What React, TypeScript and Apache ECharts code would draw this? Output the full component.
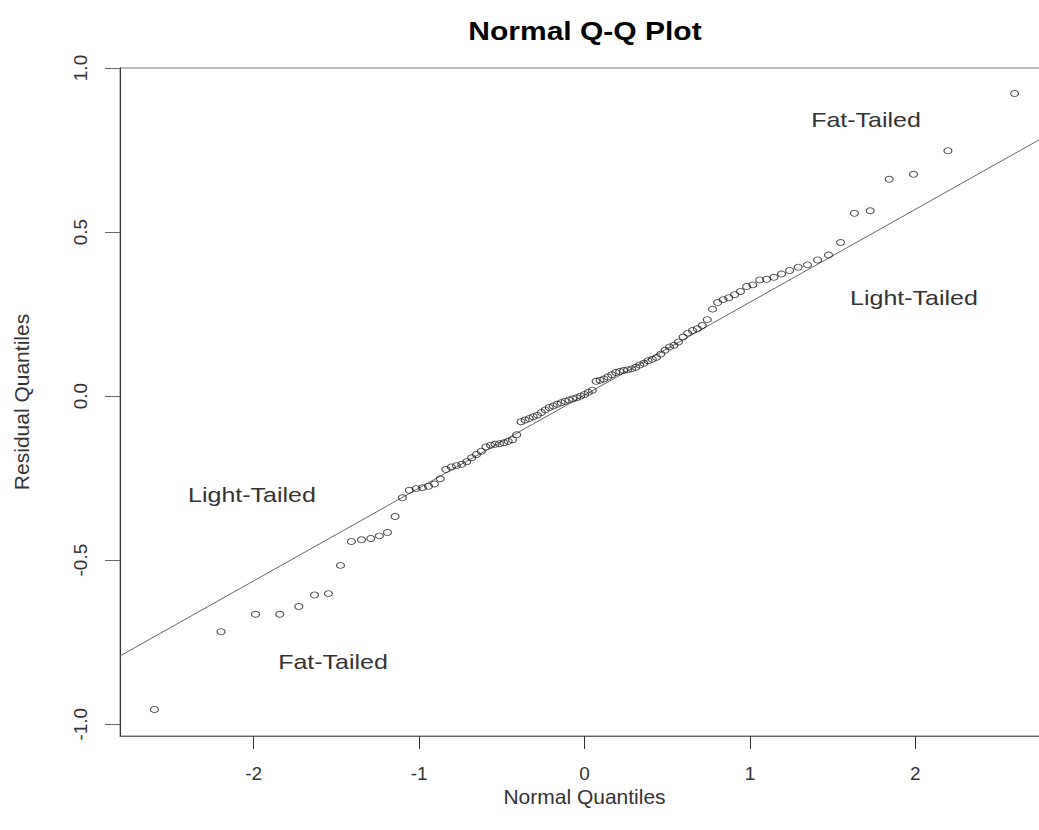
import React, { useEffect, useRef } from "react";
import * as echarts from "echarts";

// Theoretical normal quantiles (x) and residual quantiles (y)
const theoreticalQuantiles = [
  -2.6, -2.197, -1.989, -1.842, -1.727, -1.632, -1.548, -1.475, -1.409, -1.348,
  -1.292, -1.24, -1.191, -1.145, -1.101, -1.059, -1.018, -0.98, -0.943, -0.907,
  -0.872, -0.838, -0.805, -0.774, -0.742, -0.712, -0.682, -0.653, -0.624, -0.596,
  -0.568, -0.541, -0.514, -0.487, -0.461, -0.435, -0.41, -0.384, -0.359, -0.334,
  -0.31, -0.285, -0.261, -0.237, -0.213, -0.189, -0.165, -0.141, -0.117, -0.094,
  -0.07, -0.047, -0.023, 0,
  0.023, 0.047, 0.07, 0.094, 0.117, 0.141, 0.165, 0.189, 0.213, 0.237,
  0.261, 0.285, 0.31, 0.334, 0.359, 0.384, 0.41, 0.435, 0.461, 0.487,
  0.514, 0.541, 0.568, 0.596, 0.624, 0.653, 0.682, 0.712, 0.742, 0.774,
  0.805, 0.838, 0.872, 0.907, 0.943, 0.98, 1.018, 1.059, 1.101, 1.145,
  1.191, 1.24, 1.292, 1.348, 1.409, 1.475, 1.548, 1.632, 1.727, 1.842,
  1.989, 2.197, 2.6,
];

const residualQuantiles = [
  -0.955, -0.718, -0.665, -0.665, -0.641, -0.606, -0.602, -0.516, -0.443, -0.438,
  -0.434, -0.426, -0.416, -0.367, -0.31, -0.287, -0.282, -0.279, -0.275, -0.268,
  -0.252, -0.224, -0.216, -0.212, -0.208, -0.2, -0.188, -0.178, -0.168, -0.155,
  -0.15, -0.147, -0.145, -0.142, -0.138, -0.133, -0.118, -0.078, -0.073, -0.068,
  -0.063, -0.058, -0.05, -0.042, -0.035, -0.03, -0.025, -0.02, -0.016, -0.012,
  -0.008, -0.005, 0.0, 0.005,
  0.012, 0.018, 0.045, 0.048, 0.052, 0.058, 0.065, 0.072, 0.075, 0.078,
  0.08, 0.083, 0.088, 0.095, 0.1, 0.108, 0.112, 0.118, 0.128, 0.14,
  0.15, 0.155, 0.165, 0.18, 0.192, 0.2, 0.205, 0.215, 0.233, 0.265,
  0.285, 0.294, 0.3, 0.309, 0.319, 0.334, 0.339, 0.354, 0.356, 0.362,
  0.372, 0.383, 0.393, 0.4, 0.415, 0.43, 0.468, 0.557, 0.565, 0.661,
  0.676, 0.748, 0.922,
];

// Reference (qqline) end points
const lineX = [-2.808, 2.808];
const lineY = [-0.792, 0.798];

const xTicks = [-2, -1, 0, 1, 2];
const yTicks = [-1, -0.5, 0, 0.5, 1];

const annotations = [
  { text: "Fat-Tailed", x: 866, y: 120 },
  { text: "Light-Tailed", x: 914, y: 298 },
  { text: "Light-Tailed", x: 252, y: 495 },
  { text: "Fat-Tailed", x: 333, y: 662 },
];

const FONT = "'Liberation Sans', Arial, sans-serif";

export default function App() {
  const ref = useRef<HTMLDivElement>(null);

  useEffect(() => {
    if (!ref.current) return;
    const chart = echarts.init(ref.current, undefined, { renderer: "svg" });
    const points = theoreticalQuantiles.map((x, i) => [x, residualQuantiles[i]]);
    const linePts = lineX.map((x, i) => [x, lineY[i]]);

    chart.setOption({
      animation: false,
      backgroundColor: "#ffffff",
      textStyle: { fontFamily: FONT },
      grid: {
        left: 120,
        top: 68,
        right: 11,
        bottom: 94,
        show: true,
        borderColor: "#777",
        borderWidth: 1,
        backgroundColor: "transparent",
      },
      xAxis: {
        type: "value",
        min: -2.808,
        max: 2.808,
        name: "Normal Quantiles",
        nameLocation: "middle",
        nameGap: 50,
        nameMoveOverlap: false,
        nameTextStyle: { fontSize: 21, color: "#333", fontFamily: FONT },
        axisLine: { show: true, onZero: false, lineStyle: { color: "#666", width: 1 } },
        axisTick: { show: true, customValues: xTicks, length: 13, lineStyle: { color: "#333" } },
        axisLabel: {
          customValues: xTicks,
          fontSize: 19,
          lineHeight: 19,
          color: "#333",
          margin: 28,
          fontFamily: FONT,
          formatter: (v: number) => String(v),
        },
        splitLine: { show: false },
      },
      yAxis: {
        type: "value",
        min: -1.036,
        max: 1.0,
        name: "Residual Quantiles",
        nameLocation: "middle",
        nameRotate: 90,
        nameGap: 88,
        nameTextStyle: { fontSize: 21, color: "#333", fontFamily: FONT },
        axisLine: { show: true, onZero: false, lineStyle: { color: "#333", width: 1 } },
        axisTick: { show: true, customValues: yTicks, length: 15, lineStyle: { color: "#666" } },
        axisLabel: {
          customValues: yTicks,
          rotate: 90,
          fontSize: 19,
          color: "#333",
          margin: 30,
          fontFamily: FONT,
          formatter: (v: number) => v.toFixed(1),
        },
        splitLine: { show: false },
      },
      series: [
        {
          type: "line",
          data: linePts,
          showSymbol: false,
          silent: true,
          lineStyle: { color: "#666", width: 1 },
          z: 1,
        },
        {
          type: "scatter",
          data: points,
          symbol: "circle",
          symbolSize: [8, 6],
          silent: true,
          itemStyle: { color: "rgba(255,255,255,0)", borderColor: "#222", borderWidth: 1 },
          z: 2,
        },
      ],
      graphic: [
        {
          type: "text",
          x: 585,
          y: 31,
          scaleX: 1.2,
          style: {
            text: "Normal Q-Q Plot",
            fontSize: 25,
            fontWeight: "bold",
            fontFamily: FONT,
            fill: "#000",
            textAlign: "center",
            textVerticalAlign: "middle",
          },
        },
        ...annotations.map((a) => ({
          type: "text",
          x: a.x,
          y: a.y,
          scaleX: 1.19,
          style: {
            text: a.text,
            fontSize: 21,
            fontFamily: FONT,
            fill: "#333",
            textAlign: "center",
            textVerticalAlign: "middle",
          },
        })),
      ],
    });

    return () => chart.dispose();
  }, []);

  return (
    <div
      style={{
        position: "fixed",
        left: 0,
        top: 0,
        width: 1039,
        height: 830,
        overflow: "hidden",
        background: "#fff",
      }}
    >
      <div ref={ref} style={{ width: 1060, height: 830 }} />
    </div>
  );
}
